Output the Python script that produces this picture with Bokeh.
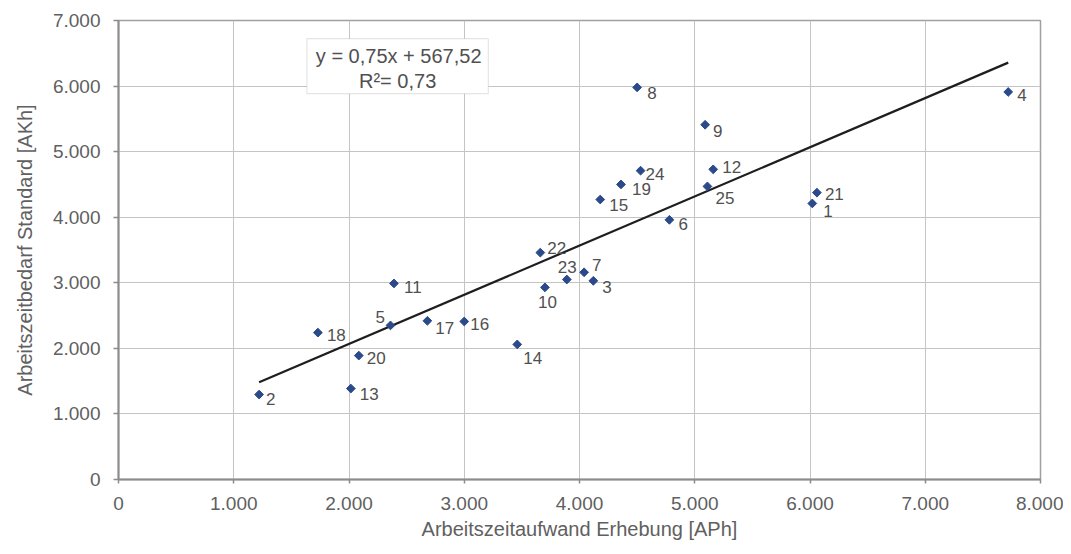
from bokeh.plotting import figure
from bokeh.models import ColumnDataSource, FixedTicker, Range1d, BoxAnnotation, Label
from bokeh.core.properties import value
from bokeh.embed import file_html
from bokeh.resources import INLINE

# ---- data ----
point_ids = ["1", "2", "3", "4", "5", "6", "7", "8", "9", "10", "11", "12", "13",
             "14", "15", "16", "17", "18", "19", "20", "21", "22", "23", "24", "25"]
aufwand_erhebung = [6020, 1220, 4120, 7720, 2360, 4780, 4040, 4500, 5090, 3700, 2390, 5160, 2016,
                    3460, 4180, 3000, 2680, 1730, 4360, 2085, 6060, 3660, 3890, 4530, 5110]
bedarf_standard = [4210, 1296, 3030, 5910, 2350, 3960, 3160, 5980, 5410, 2930, 2990, 4730, 1387,
                   2060, 4270, 2410, 2420, 2240, 4500, 1890, 4375, 3460, 3050, 4710, 4470]
trend_slope = 0.75
trend_intercept = 567.52
eq_text = "y = 0,75x + 567,52"
r2_text = "R\u00b2= 0,73"

x_ticks = [0, 1000, 2000, 3000, 4000, 5000, 6000, 7000, 8000]
x_tick_labels = ["0", "1.000", "2.000", "3.000", "4.000", "5.000", "6.000", "7.000", "8.000"]
y_ticks = [0, 1000, 2000, 3000, 4000, 5000, 6000, 7000]
y_tick_labels = ["0", "1.000", "2.000", "3.000", "4.000", "5.000", "6.000", "7.000"]

# label placement (screen pixel offsets, left edge / vertical centre)
label_dx = [11, 7, 9, 9, -15, 9, 8, 10, 8, -7, 10, 9, 9,
            6, 9, 6, 8, 9, 11, 8, 8, 7, -9, 5, 8]
label_dy = [8, 4, 6, 3, -8, 4, -7, 6, 6, 15, 4, -2, 5,
            14, 5, 3, 7, 2, 5, 2, 1, -5, -13, 3, 12]

FONT = "Liberation Sans"

p = figure(width=1063, height=546, output_backend="svg", toolbar_location=None,
           x_range=Range1d(0, 8000), y_range=Range1d(0, 7000),
           min_border_left=118, min_border_right=23, min_border_top=20, min_border_bottom=67,
           background_fill_color="white", border_fill_color="white")

p.outline_line_color = "#a0a0a0"
p.outline_line_width = 1.5

# grid
for g in (p.xgrid, p.ygrid):
    g.grid_line_color = "#c4c4c4"
    g.grid_line_width = 1
p.xgrid.ticker = FixedTicker(ticks=x_ticks)
p.ygrid.ticker = FixedTicker(ticks=y_ticks)

# axes
p.xaxis.ticker = FixedTicker(ticks=x_ticks)
p.yaxis.ticker = FixedTicker(ticks=y_ticks)
p.xaxis.major_label_overrides = dict(zip(x_ticks, x_tick_labels))
p.yaxis.major_label_overrides = dict(zip(y_ticks, y_tick_labels))
p.xaxis.axis_label = "Arbeitszeitaufwand Erhebung [APh]"
p.yaxis.axis_label = "Arbeitszeitbedarf Standard [AKh]"
for ax in (p.xaxis[0], p.yaxis[0]):
    ax.axis_line_color = "#8c8c8c"
    ax.axis_line_width = 2
    ax.major_tick_line_color = "#8c8c8c"
    ax.major_tick_line_width = 1.5
    ax.major_tick_in = 0
    ax.minor_tick_line_color = None
    ax.major_label_text_font = FONT
    ax.major_label_text_font_size = "19px"
    ax.major_label_text_color = "#606060"
    ax.axis_label_text_font = FONT
    ax.axis_label_text_font_size = "20px"
    ax.axis_label_text_font_style = "normal"
    ax.axis_label_text_color = "#606060"
p.xaxis.major_tick_out = 4
p.xaxis.major_label_standoff = 13
p.xaxis.axis_label_standoff = 5
p.yaxis.major_tick_out = 5
p.yaxis.major_label_standoff = 13
p.yaxis.axis_label_standoff = 14

# trend line
x0 = min(aufwand_erhebung)
x1 = max(aufwand_erhebung)
p.line([x0, x1], [trend_slope * x0 + trend_intercept, trend_slope * x1 + trend_intercept],
       line_color="#1e1e1e", line_width=2.2)

src = ColumnDataSource(dict(x=aufwand_erhebung, y=bedarf_standard, label=point_ids,
                            dx=label_dx, dy=label_dy))
p.scatter("x", "y", source=src, marker="square", angle=0.785398, size=6.2,
          fill_color="#2b4a8b", line_color="#2b4a8b")
p.text("x", "y", text="label", source=src, x_offset="dx", y_offset="dy",
       text_font=value(FONT), text_font_size="17px", text_color="#505050",
       text_align="left", text_baseline="middle")

# equation box
box = BoxAnnotation(left=1635, right=3209, bottom=5884, top=6723,
                    fill_color="white", fill_alpha=1.0,
                    line_color="#a8a8a8", line_width=1.2)
p.add_layout(box)
p.add_layout(Label(x=2431, y=6463, text=eq_text, text_font=FONT, text_font_size="20px",
                   text_color="#505050", text_align="center", text_baseline="middle"))
p.add_layout(Label(x=2422, y=6082, text=r2_text, text_font=FONT, text_font_size="20px",
                   text_color="#505050", text_align="center", text_baseline="middle"))

open("out.html", "w").write(file_html(p, INLINE))
